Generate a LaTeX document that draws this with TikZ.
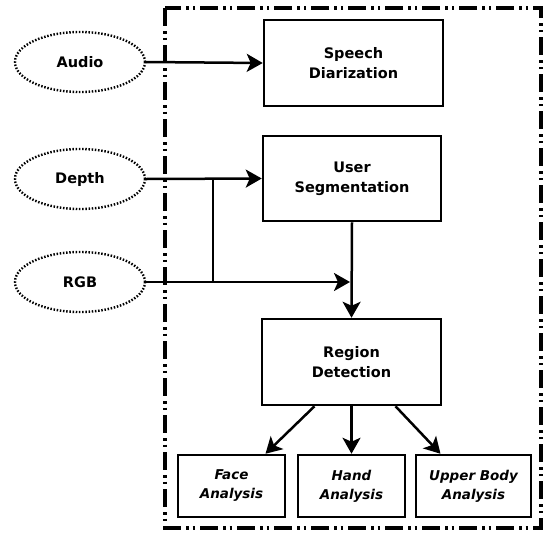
\documentclass[tikz,border=0pt]{standalone}
\usepackage{fontspec}
\setmainfont{DejaVu Sans}
\usetikzlibrary{arrows.meta,shapes.geometric}
\tikzset{
  procbox/.style={draw, line width=2.5pt, inner sep=0pt, align=center, font=\fontsize{14.5}{20}\selectfont\bfseries},
  subbox/.style={procbox, font=\fontsize{13.5}{19}\selectfont\bfseries\itshape},
  src/.style={draw, ellipse, line width=2.4pt, dash pattern=on 1.5pt off 1.7pt, inner sep=0pt, minimum width=130pt, minimum height=60pt, font=\fontsize{14.5}{19}\selectfont\bfseries},
  conn/.style={line width=2.5pt, -{Stealth[length=16pt,width=18pt,inset=4pt]}},
  plain/.style={line width=2.5pt},
  frame/.style={line width=3.8pt, dash pattern=on 18pt off 5pt on 2.5pt off 4pt on 2.5pt off 5pt}
}
\begin{document}
\begin{tikzpicture}[x=1pt,y=-1pt]
\useasboundingbox (0,0) rectangle (551,533);
\draw[frame] (165,8) rectangle (541,528);
\node[src] (audio) at (80,62) {Audio};
\node[src] (depth) at (80,179) {Depth};
\node[src] (rgb) at (80,282) {RGB};
\node[procbox, minimum width=179pt, minimum height=86pt] (speech) at (353.5,63) {Speech\\Diarization};
\node[procbox, minimum width=178pt, minimum height=85pt] (user) at (352,178.5) {User\\Segmentation};
\node[procbox, minimum width=179pt, minimum height=86pt] (region) at (351.5,362) {Region\\Detection};
\node[subbox, minimum width=107pt, minimum height=62pt] (face) at (231.5,486) {Face\\Analysis};
\node[subbox, minimum width=107pt, minimum height=62pt] (hand) at (351.5,486) {Hand\\Analysis};
\node[subbox, minimum width=115pt, minimum height=62pt] (upper) at (473.5,486) {Upper Body\\Analysis};
\coordinate (j1) at (213,179);
\coordinate (j2) at (213,282);
\coordinate (rgbend) at (350,282);
\draw[conn] (audio.east) -- (speech.west);
\draw[conn] (depth.east) -- (user.west);
\draw[plain] (j1) -- (j2);
\draw[conn] (rgb.east) -- (rgbend);
\draw[conn] (user.south) -- (region.north);
\draw[conn] ([xshift=-37pt]region.south) -- ([xshift=34pt]face.north);
\draw[conn] (region.south) -- (hand.north);
\draw[conn] ([xshift=44pt]region.south) -- ([xshift=-33pt]upper.north);
\end{tikzpicture}
\end{document}
